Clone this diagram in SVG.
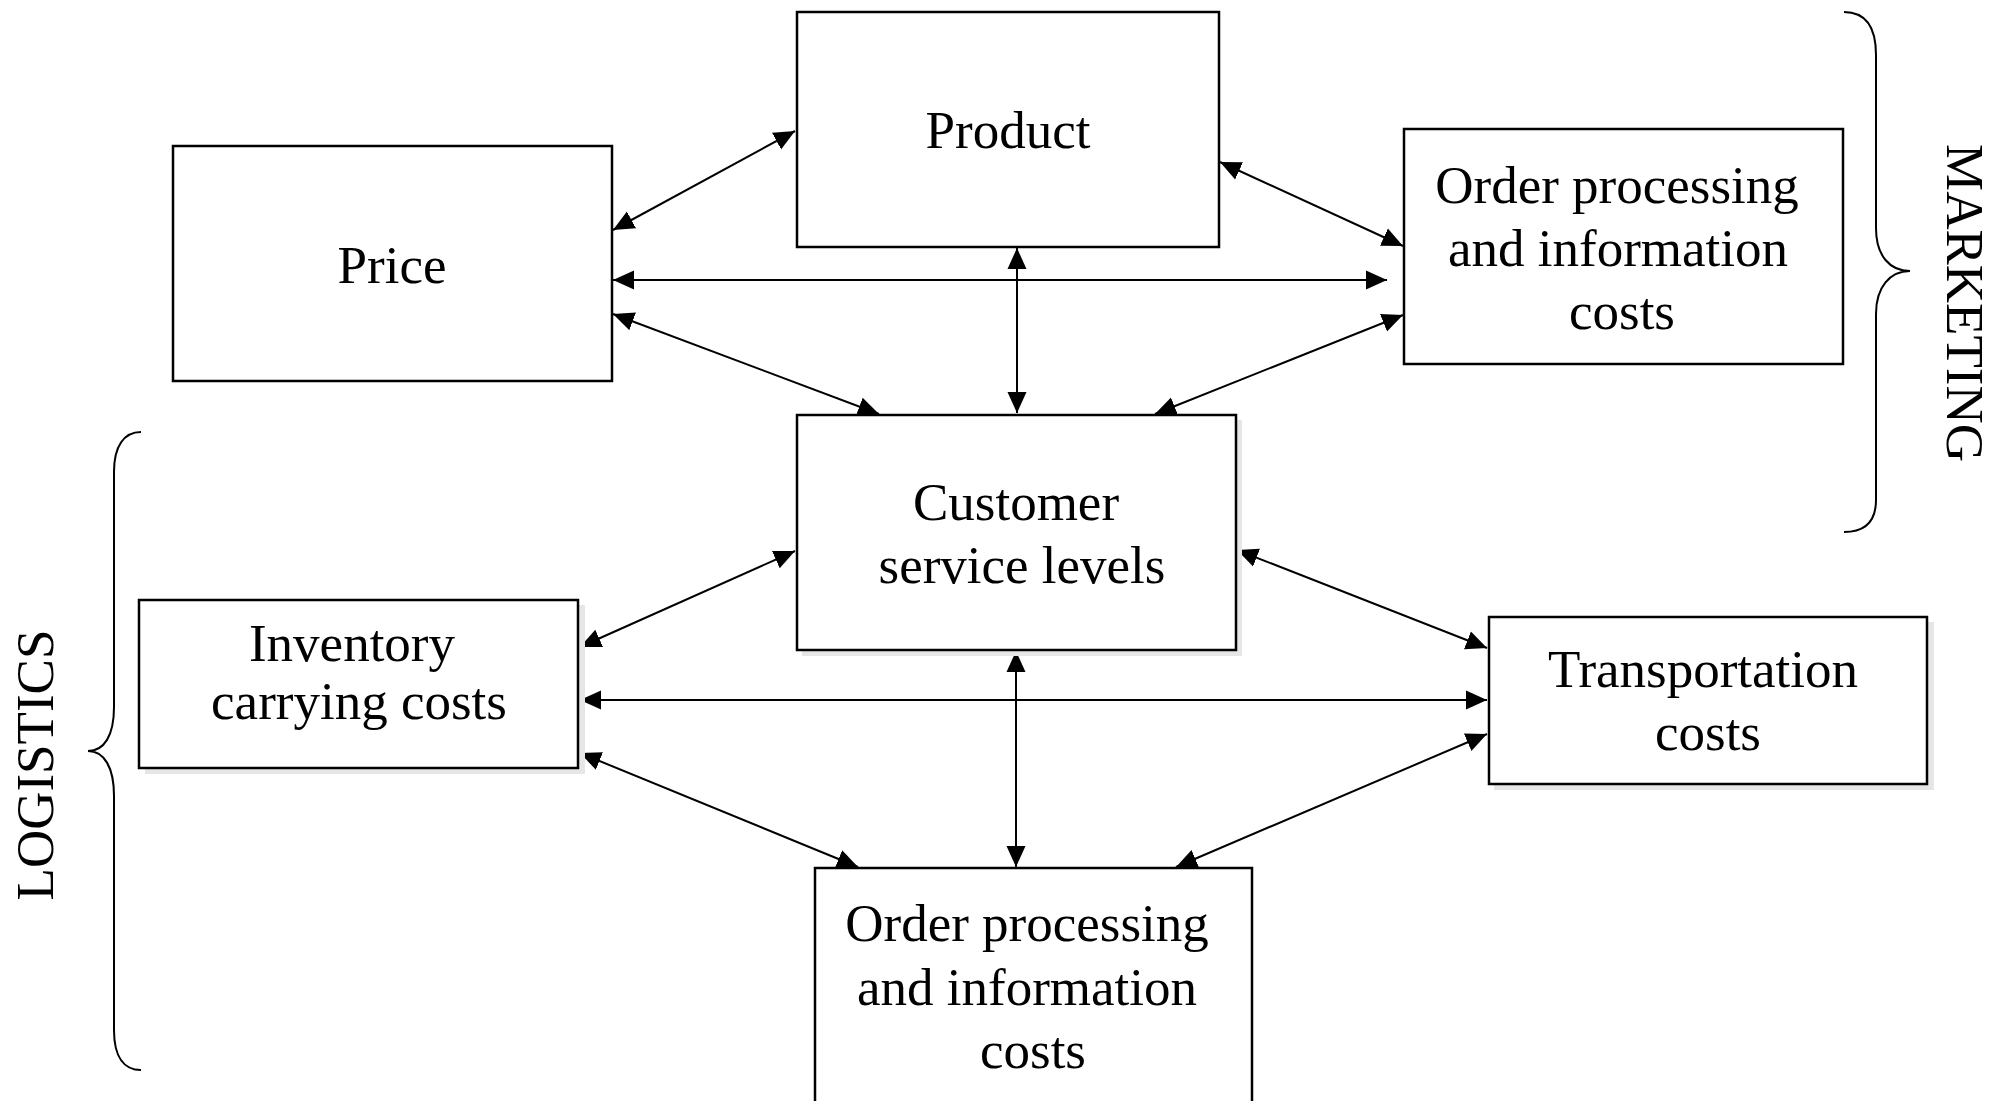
<svg xmlns="http://www.w3.org/2000/svg" width="2004" height="1101" viewBox="0 0 2004 1101">
  <style>
    .box { fill: #ffffff; stroke: #000000; stroke-width: 2.5; }
    .shadow { fill: #e6e6e6; stroke: none; }
    .label { font-family: "Liberation Serif", "Times New Roman", serif; font-size: 53px; fill: #000000; text-anchor: middle; }
    .link { stroke: #000000; stroke-width: 2; fill: none; marker-start: url(#head); marker-end: url(#head); }
    .brace { stroke: #000000; stroke-width: 2; fill: none; }
  </style>
  <defs>
    <marker id="head" markerUnits="userSpaceOnUse" markerWidth="22" markerHeight="20" refX="21" refY="9.5" orient="auto-start-reverse" viewBox="0 0 22 19">
      <path d="M0,0 L21,9.5 L0,19 z" fill="#000000"/>
    </marker>
  </defs>
  <rect width="2004" height="1101" fill="#ffffff"/>

  <!-- connectors -->
  <g id="connectors">
    <!-- marketing side -->
    <line class="link" x1="613" y1="230" x2="795" y2="131"/>
    <line class="link" x1="1220" y1="162" x2="1403" y2="246"/>
    <line class="link" x1="613" y1="280" x2="1387" y2="280"/>
    <line class="link" x1="613" y1="314" x2="879" y2="414"/>
    <line class="link" x1="1017" y1="248" x2="1017" y2="413"/>
    <line class="link" x1="1403" y1="315" x2="1155" y2="414"/>
    <!-- logistics side -->
    <line class="link" x1="795" y1="551" x2="580" y2="647"/>
    <line class="link" x1="580" y1="700" x2="1487" y2="700"/>
    <line class="link" x1="580" y1="753" x2="858" y2="867"/>
    <line class="link" x1="1237" y1="550" x2="1487" y2="648"/>
    <line class="link" x1="1016" y1="651" x2="1016" y2="867"/>
    <line class="link" x1="1487" y1="734" x2="1176" y2="867"/>
  </g>

  <!-- group braces -->
  <g id="marketing">
    <path class="brace" d="M1844,12 C1866,12 1876,28 1876,55 L1876,228 C1876,256 1890,271 1910,271 C1890,271 1876,287 1876,314 L1876,500 C1876,521 1866,532 1844,532"/>
    <text class="label" transform="translate(1947,303) rotate(90)">MARKETING</text>
  </g>
  <g id="logistics">
    <path class="brace" d="M141,432 C124,432 114,446 114,472 L114,707 C114,736 104,751 88,751 C104,751 114,767 114,796 L114,1030 C114,1057 124,1070 141,1070"/>
    <text class="label" transform="translate(53,765) rotate(-90)">LOGISTICS</text>
  </g>

  <!-- nodes -->
  <g id="product">
    <rect class="box" x="797" y="12" width="422" height="235"/>
    <text class="label" x="1008" y="148">Product</text>
  </g>
  <g id="price">
    <rect class="box" x="173" y="146" width="439" height="235"/>
    <text class="label" x="392" y="283">Price</text>
  </g>
  <g id="order-marketing">
    <rect class="box" x="1404" y="129" width="439" height="235"/>
    <text class="label" x="1617" y="203">Order processing</text>
    <text class="label" x="1618" y="266">and information</text>
    <text class="label" x="1622" y="329">costs</text>
  </g>
  <g id="customer-service">
    <rect class="shadow" x="802" y="420" width="440" height="236"/>
    <rect class="box" x="797" y="415" width="439" height="235"/>
    <text class="label" x="1016" y="520">Customer</text>
    <text class="label" x="1022" y="583">service levels</text>
  </g>
  <g id="inventory">
    <rect class="shadow" x="145" y="605" width="440" height="169"/>
    <rect class="box" x="139" y="600" width="439" height="168"/>
    <text class="label" x="352" y="661">Inventory</text>
    <text class="label" x="359" y="719">carrying costs</text>
  </g>
  <g id="transportation">
    <rect class="shadow" x="1494" y="622" width="440" height="168"/>
    <rect class="box" x="1489" y="617" width="438" height="167"/>
    <text class="label" x="1703" y="687">Transportation</text>
    <text class="label" x="1708" y="750">costs</text>
  </g>
  <g id="order-logistics">
    <rect class="box" x="815" y="868" width="437" height="240"/>
    <text class="label" x="1027" y="941">Order processing</text>
    <text class="label" x="1027" y="1005">and information</text>
    <text class="label" x="1033" y="1068">costs</text>
  </g>
</svg>
